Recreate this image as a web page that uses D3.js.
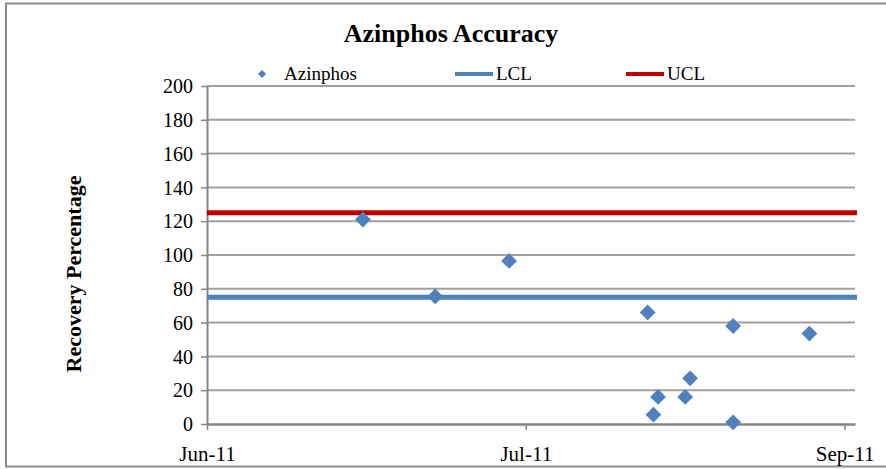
<!DOCTYPE html>
<html>
<head>
<meta charset="utf-8">
<script src="https://cdn.jsdelivr.net/npm/d3@7"></script>
<style>
  body { margin: 0; background: #fff; }
  text { font-family: "Liberation Serif", "Times New Roman", serif; fill: #000; }
</style>
</head>
<body>
<svg width="886" height="469"></svg>
<script>
// sample dates and recovery %
const SAMPLE_DATES = [
  "2011-06-23 12:00", "2011-07-03 22:00", "2011-07-14 14:00",
  "2011-08-03 14:00", "2011-08-04 10:00", "2011-08-05 02:00",
  "2011-08-09 00:00", "2011-08-09 17:00", "2011-08-15 22:00",
  "2011-08-15 22:00", "2011-08-26 22:00"
];
const RECOVERY = [121, 75.5, 96.5, 66, 5.5, 16, 16, 27, 58, 1, 53.5];
const LCL = 75;
const UCL = 125;
const Y_TICKS = [0, 20, 40, 60, 80, 100, 120, 140, 160, 180, 200];
const X_TICKS = ["2011-06-01 00:00", "2011-07-17 00:00", "2011-09-01 00:00"];
const X_DOMAIN = ["2011-06-01 00:00", "2011-09-02 12:00"];

const parse = d3.utcParse("%Y-%m-%d %H:%M");
const points = SAMPLE_DATES.map((d, i) => ({ date: parse(d), value: RECOVERY[i] }));

const M = { left: 207, right: 855, top: 86, bottom: 424 };
const BLUE = "#4F81BD", RED = "#C00000", GRID = "#a0a0a0", AXIS = "#868686";

const svg = d3.select("svg");

// outer chart border
svg.append("rect")
  .attr("x", 6).attr("y", 3.5).attr("width", 920).attr("height", 463)
  .attr("fill", "none").attr("stroke", "#8c8c8c").attr("stroke-width", 2);

const x = d3.scaleUtc().domain(X_DOMAIN.map(parse)).range([M.left, M.right]);
const y = d3.scaleLinear().domain([0, 200]).range([M.bottom, M.top]);

// gridlines
svg.append("g").selectAll("line")
  .data(Y_TICKS.filter(d => d > 0))
  .enter().append("line")
  .attr("x1", M.left).attr("x2", M.right)
  .attr("y1", d => y(d)).attr("y2", d => y(d))
  .attr("stroke", GRID).attr("stroke-width", 2);

// y axis
const yAxis = svg.append("g")
  .attr("transform", `translate(${M.left},0)`)
  .call(d3.axisLeft(y).tickValues(Y_TICKS).tickSize(6).tickSizeOuter(0).tickPadding(8));
yAxis.select(".domain").attr("stroke", AXIS).attr("stroke-width", 2);
yAxis.selectAll(".tick line").attr("stroke", AXIS).attr("stroke-width", 1.5);
yAxis.selectAll(".tick text").style("font-size", "20px").attr("dy", "0.33em");

// x axis
const xAxis = svg.append("g")
  .attr("transform", `translate(0,${M.bottom})`)
  .call(d3.axisBottom(x).tickValues(X_TICKS.map(parse))
    .tickFormat(d3.utcFormat("%b-%y")).tickSize(6).tickSizeOuter(0).tickPadding(16));
xAxis.select(".domain").attr("stroke", AXIS).attr("stroke-width", 2.5);
xAxis.selectAll(".tick line").attr("stroke", AXIS).attr("stroke-width", 1.5);
xAxis.selectAll(".tick text").style("font-size", "21px");

// control limits
const limits = [{ v: UCL, c: RED }, { v: LCL, c: BLUE }];
svg.append("g").selectAll("line")
  .data(limits)
  .enter().append("line")
  .attr("x1", M.left).attr("x2", M.right + 2)
  .attr("y1", d => y(d.v)).attr("y2", d => y(d.v))
  .attr("stroke", d => d.c).attr("stroke-width", 5);

// markers
const diamond = d3.symbol().type(d3.symbolSquare).size(125);
svg.append("g").selectAll("path")
  .data(points)
  .enter().append("path")
  .attr("d", diamond)
  .attr("transform", d => `translate(${x(d.date)},${y(d.value)}) rotate(45)`)
  .attr("fill", BLUE);

// title
svg.append("text")
  .attr("x", 451).attr("y", 42)
  .attr("text-anchor", "middle")
  .style("font-size", "26px").style("font-weight", "bold")
  .text("Azinphos Accuracy");

// y axis title
svg.append("text")
  .attr("transform", "translate(81,274) rotate(-90)")
  .attr("text-anchor", "middle")
  .style("font-size", "22px").style("font-weight", "bold")
  .text("Recovery Percentage");

// legend
const legend = svg.append("g").style("font-size", "19px");
legend.append("path")
  .attr("d", d3.symbol().type(d3.symbolSquare).size(34))
  .attr("transform", "translate(262,74) rotate(45)")
  .attr("fill", BLUE);
legend.append("text").attr("x", 284).attr("y", 80).text("Azinphos");
legend.append("line").attr("x1", 455).attr("x2", 493).attr("y1", 74).attr("y2", 74)
  .attr("stroke", BLUE).attr("stroke-width", 4);
legend.append("text").attr("x", 496).attr("y", 80).text("LCL");
legend.append("line").attr("x1", 626).attr("x2", 664).attr("y1", 74).attr("y2", 74)
  .attr("stroke", RED).attr("stroke-width", 4);
legend.append("text").attr("x", 667).attr("y", 80).text("UCL");
</script>
</body>
</html>
